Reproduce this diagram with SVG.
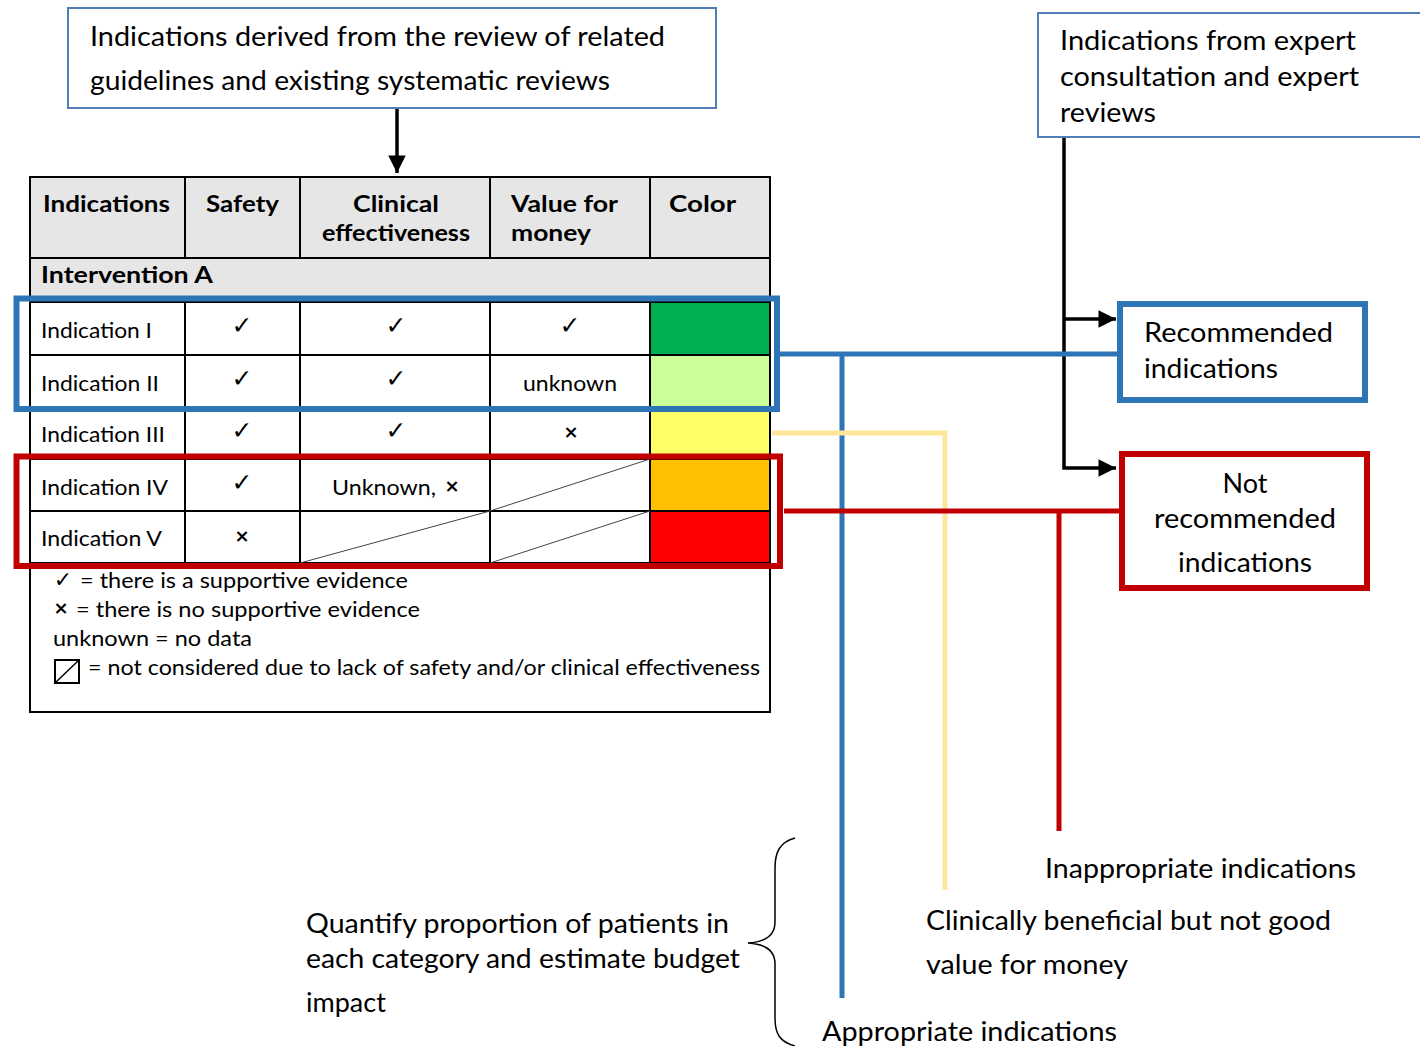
<svg xmlns="http://www.w3.org/2000/svg" width="1420" height="1046" viewBox="0 0 1420 1046">
<style>
text{font-family:"Lato","Open Sans","Liberation Sans",sans-serif;fill:#000}
.big{font-size:27px}
.cell{font-size:22px}
.hdr{font-size:22px;font-weight:bold}
.mid{text-anchor:middle}
.grid{stroke:#000;stroke-width:2;fill:none}
.diag{stroke:#444;stroke-width:1}
.sym{font-family:"DejaVu Sans",sans-serif;font-size:25px;text-anchor:middle}
.x{font-family:"DejaVu Sans",sans-serif;font-size:18px;font-weight:bold;text-anchor:middle}
</style>
<defs>
<marker id="ah" viewBox="0 0 10 10" refX="10" refY="5" markerWidth="5.5" markerHeight="5" markerUnits="strokeWidth" orient="auto">
<path d="M0,0 L10,5 L0,10 z" fill="#000"/>
</marker>
</defs>
<rect width="1420" height="1046" fill="#fff"/>

<g id="connectors">
<line x1="397" y1="108" x2="397" y2="173" stroke="#000" stroke-width="3.5" marker-end="url(#ah)"/>
<polyline points="1064,137 1064,468 1116,468" fill="none" stroke="#000" stroke-width="3.5" marker-end="url(#ah)"/>
<line x1="1064" y1="319" x2="1116" y2="319" stroke="#000" stroke-width="3.5" marker-end="url(#ah)"/>
<line x1="780" y1="354" x2="1120" y2="354" stroke="#2e75b6" stroke-width="5"/>
<line x1="842" y1="354" x2="842" y2="998" stroke="#2e75b6" stroke-width="5"/>
<polyline points="772,433 945,433 945,890" fill="none" stroke="#ffe699" stroke-width="5"/>
<line x1="784" y1="511" x2="1122" y2="511" stroke="#c00000" stroke-width="5"/>
<line x1="1059" y1="511" x2="1059" y2="831" stroke="#c00000" stroke-width="5"/>
<path d="M795,838 C780,842 775,852 775,868 L775,922 C775,935 765,942 748,943 C765,944 775,951 775,964 L775,1018 C775,1034 780,1042 795,1046" fill="none" stroke="#000" stroke-width="1.5"/>
</g>

<g id="source-review">
<rect x="68" y="8" width="648" height="100" fill="#fff" stroke="#4f7fb5" stroke-width="2"/>
<text class="big" x="90" y="46" textLength="575" lengthAdjust="spacingAndGlyphs">Indications derived from the review of related</text>
<text class="big" x="90" y="90" textLength="520" lengthAdjust="spacingAndGlyphs">guidelines and existing systematic reviews</text>
</g>

<g id="source-expert">
<rect x="1038" y="13" width="390" height="124" fill="#fff" stroke="#4f7fb5" stroke-width="2"/>
<text class="big" x="1060" y="50" textLength="296" lengthAdjust="spacingAndGlyphs">Indications from expert</text>
<text class="big" x="1060" y="86" textLength="299" lengthAdjust="spacingAndGlyphs">consultation and expert</text>
<text class="big" x="1060" y="122" textLength="96" lengthAdjust="spacingAndGlyphs">reviews</text>
</g>

<g id="table">
<rect x="30" y="177" width="740" height="81" fill="#e6e6e6"/>
<rect x="30" y="258" width="740" height="44" fill="#e6e6e6"/>
<rect x="650" y="302" width="120" height="53" fill="#00b050"/>
<rect x="650" y="355" width="120" height="52" fill="#ccff99"/>
<rect x="650" y="407" width="120" height="52" fill="#ffff66"/>
<rect x="650" y="459" width="120" height="52" fill="#ffc000"/>
<rect x="650" y="511" width="120" height="52" fill="#ff0000"/>
<rect class="grid" x="30" y="177" width="740" height="535"/>
<line class="grid" x1="30" y1="258" x2="770" y2="258"/>
<line class="grid" x1="30" y1="302" x2="770" y2="302"/>
<line class="grid" x1="30" y1="355" x2="770" y2="355"/>
<line class="grid" x1="30" y1="407" x2="770" y2="407"/>
<line class="grid" x1="30" y1="459" x2="770" y2="459"/>
<line class="grid" x1="30" y1="511" x2="770" y2="511"/>
<line class="grid" x1="30" y1="563" x2="770" y2="563"/>
<line class="grid" x1="185" y1="177" x2="185" y2="258"/>
<line class="grid" x1="300" y1="177" x2="300" y2="258"/>
<line class="grid" x1="490" y1="177" x2="490" y2="258"/>
<line class="grid" x1="650" y1="177" x2="650" y2="258"/>
<line class="grid" x1="185" y1="302" x2="185" y2="563"/>
<line class="grid" x1="300" y1="302" x2="300" y2="563"/>
<line class="grid" x1="490" y1="302" x2="490" y2="563"/>
<line class="grid" x1="650" y1="302" x2="650" y2="563"/>
<line class="diag" x1="490" y1="511" x2="650" y2="459"/>
<line class="diag" x1="300" y1="563" x2="490" y2="511"/>
<line class="diag" x1="490" y1="563" x2="650" y2="511"/>

<text class="hdr" x="43" y="212" textLength="127" lengthAdjust="spacingAndGlyphs">Indications</text>
<text class="hdr" x="206" y="212" textLength="73" lengthAdjust="spacingAndGlyphs">Safety</text>
<text class="hdr" x="353" y="212" textLength="86" lengthAdjust="spacingAndGlyphs">Clinical</text>
<text class="hdr" x="322" y="241" textLength="148" lengthAdjust="spacingAndGlyphs">effectiveness</text>
<text class="hdr" x="511" y="212" textLength="107" lengthAdjust="spacingAndGlyphs">Value for</text>
<text class="hdr" x="511" y="241" textLength="80" lengthAdjust="spacingAndGlyphs">money</text>
<text class="hdr" x="669" y="212" textLength="67" lengthAdjust="spacingAndGlyphs">Color</text>
<text class="hdr" x="41" y="283" textLength="172" lengthAdjust="spacingAndGlyphs">Intervention A</text>

<text class="cell" x="41" y="338" textLength="111" lengthAdjust="spacingAndGlyphs">Indication I</text>
<text class="sym" x="242" y="334">✓</text>
<text class="sym" x="396" y="334">✓</text>
<text class="sym" x="570" y="334">✓</text>

<text class="cell" x="41" y="391" textLength="118" lengthAdjust="spacingAndGlyphs">Indication II</text>
<text class="sym" x="242" y="387">✓</text>
<text class="sym" x="396" y="387">✓</text>
<text class="cell" x="523" y="391" textLength="94" lengthAdjust="spacingAndGlyphs">unknown</text>

<text class="cell" x="41" y="442" textLength="124" lengthAdjust="spacingAndGlyphs">Indication III</text>
<text class="sym" x="242" y="439">✓</text>
<text class="sym" x="396" y="439">✓</text>
<text class="x" x="571" y="438">×</text>

<text class="cell" x="41" y="495" textLength="127" lengthAdjust="spacingAndGlyphs">Indication IV</text>
<text class="sym" x="242" y="491">✓</text>
<text class="cell" x="332" y="495" textLength="104" lengthAdjust="spacingAndGlyphs">Unknown,</text>
<text class="x" x="452" y="492">×</text>

<text class="cell" x="41" y="546" textLength="121" lengthAdjust="spacingAndGlyphs">Indication V</text>
<text class="x" x="242" y="542">×</text>

<text class="sym" x="63" y="587" style="font-size:22px">✓</text>
<text class="cell" x="80" y="588" textLength="328" lengthAdjust="spacingAndGlyphs">= there is a supportive evidence</text>
<text class="x" x="61" y="614">×</text>
<text class="cell" x="76" y="617" textLength="344" lengthAdjust="spacingAndGlyphs">= there is no supportive evidence</text>
<text class="cell" x="53" y="646" textLength="199" lengthAdjust="spacingAndGlyphs">unknown = no data</text>
<rect x="55" y="660" width="24" height="23" fill="none" stroke="#000" stroke-width="2"/>
<line x1="55" y1="683" x2="79" y2="660" stroke="#000" stroke-width="1.5"/>
<text class="cell" x="88" y="675" textLength="672" lengthAdjust="spacingAndGlyphs">= not considered due to lack of safety and/or clinical effectiveness</text>
</g>

<g id="group-recommended">
<rect x="16.5" y="298.5" width="760.5" height="110.5" fill="none" stroke="#2e75b6" stroke-width="6"/>
</g>
<g id="group-not-recommended">
<rect x="16.5" y="456.5" width="763.5" height="109.5" fill="none" stroke="#c00000" stroke-width="6"/>
</g>

<g id="recommended">
<rect x="1120" y="304" width="245" height="96" fill="#fff" stroke="#2e75b6" stroke-width="6"/>
<text class="big" x="1144" y="342" textLength="189" lengthAdjust="spacingAndGlyphs">Recommended</text>
<text class="big" x="1144" y="378" textLength="134" lengthAdjust="spacingAndGlyphs">indications</text>
</g>

<g id="not-recommended">
<rect x="1122" y="454" width="245" height="134" fill="#fff" stroke="#c00000" stroke-width="6"/>
<text class="big mid" x="1245" y="493">Not</text>
<text class="big mid" x="1245" y="528" textLength="182" lengthAdjust="spacingAndGlyphs">recommended</text>
<text class="big mid" x="1245" y="572" textLength="134" lengthAdjust="spacingAndGlyphs">indications</text>
</g>

<g id="inappropriate">
<text class="big" x="1045" y="878" textLength="311" lengthAdjust="spacingAndGlyphs">Inappropriate indications</text>
</g>
<g id="clinically-beneficial">
<text class="big" x="926" y="930" textLength="405" lengthAdjust="spacingAndGlyphs">Clinically beneficial but not good</text>
<text class="big" x="926" y="974" textLength="202" lengthAdjust="spacingAndGlyphs">value for money</text>
</g>
<g id="appropriate">
<text class="big" x="822" y="1041" textLength="295" lengthAdjust="spacingAndGlyphs">Appropriate indications</text>
</g>
<g id="quantify">
<text class="big" x="306" y="933" textLength="423" lengthAdjust="spacingAndGlyphs">Quantify proportion of patients in</text>
<text class="big" x="306" y="968" textLength="434" lengthAdjust="spacingAndGlyphs">each category and estimate budget</text>
<text class="big" x="306" y="1012">impact</text>
</g>
</svg>
